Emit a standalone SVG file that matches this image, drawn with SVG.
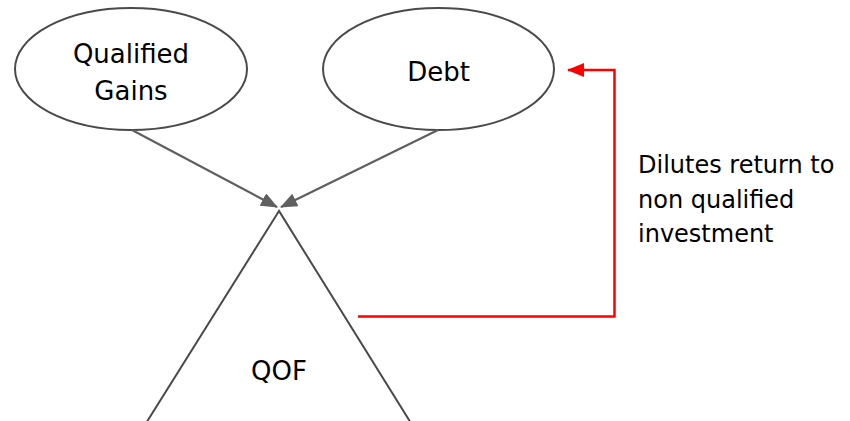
<svg xmlns="http://www.w3.org/2000/svg" width="850" height="421" viewBox="0 0 850 421">
  <style>
    .shape { fill: #ffffff; stroke: #4a4a4a; stroke-width: 2; }
    .label { font-family: "DejaVu Sans", "Liberation Sans", sans-serif; fill: #000000; }
    .flow { fill: none; stroke: #5f5f5f; stroke-width: 2.2; }
    .dilute { fill: none; stroke: #ff0000; stroke-width: 2.5; }
  </style>
  <defs>
    <marker id="arrowGray" viewBox="0 0 17 14" refX="16" refY="7" markerWidth="17" markerHeight="14" orient="auto" markerUnits="userSpaceOnUse">
      <path d="M0,0 L17,7 L0,14 z" fill="#5f5f5f"/>
    </marker>
    <marker id="arrowRed" viewBox="0 0 17 14" refX="16" refY="7" markerWidth="17" markerHeight="14" orient="auto" markerUnits="userSpaceOnUse">
      <path d="M0,0 L17,7 L0,14 z" fill="#ff0000"/>
    </marker>
  </defs>

  <rect width="850" height="421" fill="#ffffff"/>

  <g id="qualified-gains">
    <ellipse class="shape" cx="131" cy="69" rx="116" ry="61"/>
    <text class="label" x="131" y="63" font-size="26" text-anchor="middle">Qualified</text>
    <text class="label" x="131" y="100" font-size="26" text-anchor="middle">Gains</text>
  </g>

  <g id="debt">
    <ellipse class="shape" cx="438.5" cy="69" rx="115.5" ry="61"/>
    <text class="label" x="438.5" y="81" font-size="26" text-anchor="middle">Debt</text>
  </g>

  <g id="qof">
    <polygon class="shape" points="279,211 138,436 419,436"/>
    <text class="label" x="279" y="380" font-size="26" text-anchor="middle">QOF</text>
  </g>

  <g id="note">
    <text class="label" x="638" y="173" font-size="24">Dilutes return to</text>
    <text class="label" x="638" y="208" font-size="24">non qualified</text>
    <text class="label" x="638" y="242" font-size="24">investment</text>
  </g>

  <g id="connectors">
    <line class="flow" x1="132" y1="130" x2="277" y2="207" marker-end="url(#arrowGray)"/>
    <line class="flow" x1="438" y1="130" x2="281" y2="207" marker-end="url(#arrowGray)"/>
    <polyline class="dilute" points="358,316.5 614.5,316.5 614.5,70 568,70" marker-end="url(#arrowRed)"/>
  </g>
</svg>
